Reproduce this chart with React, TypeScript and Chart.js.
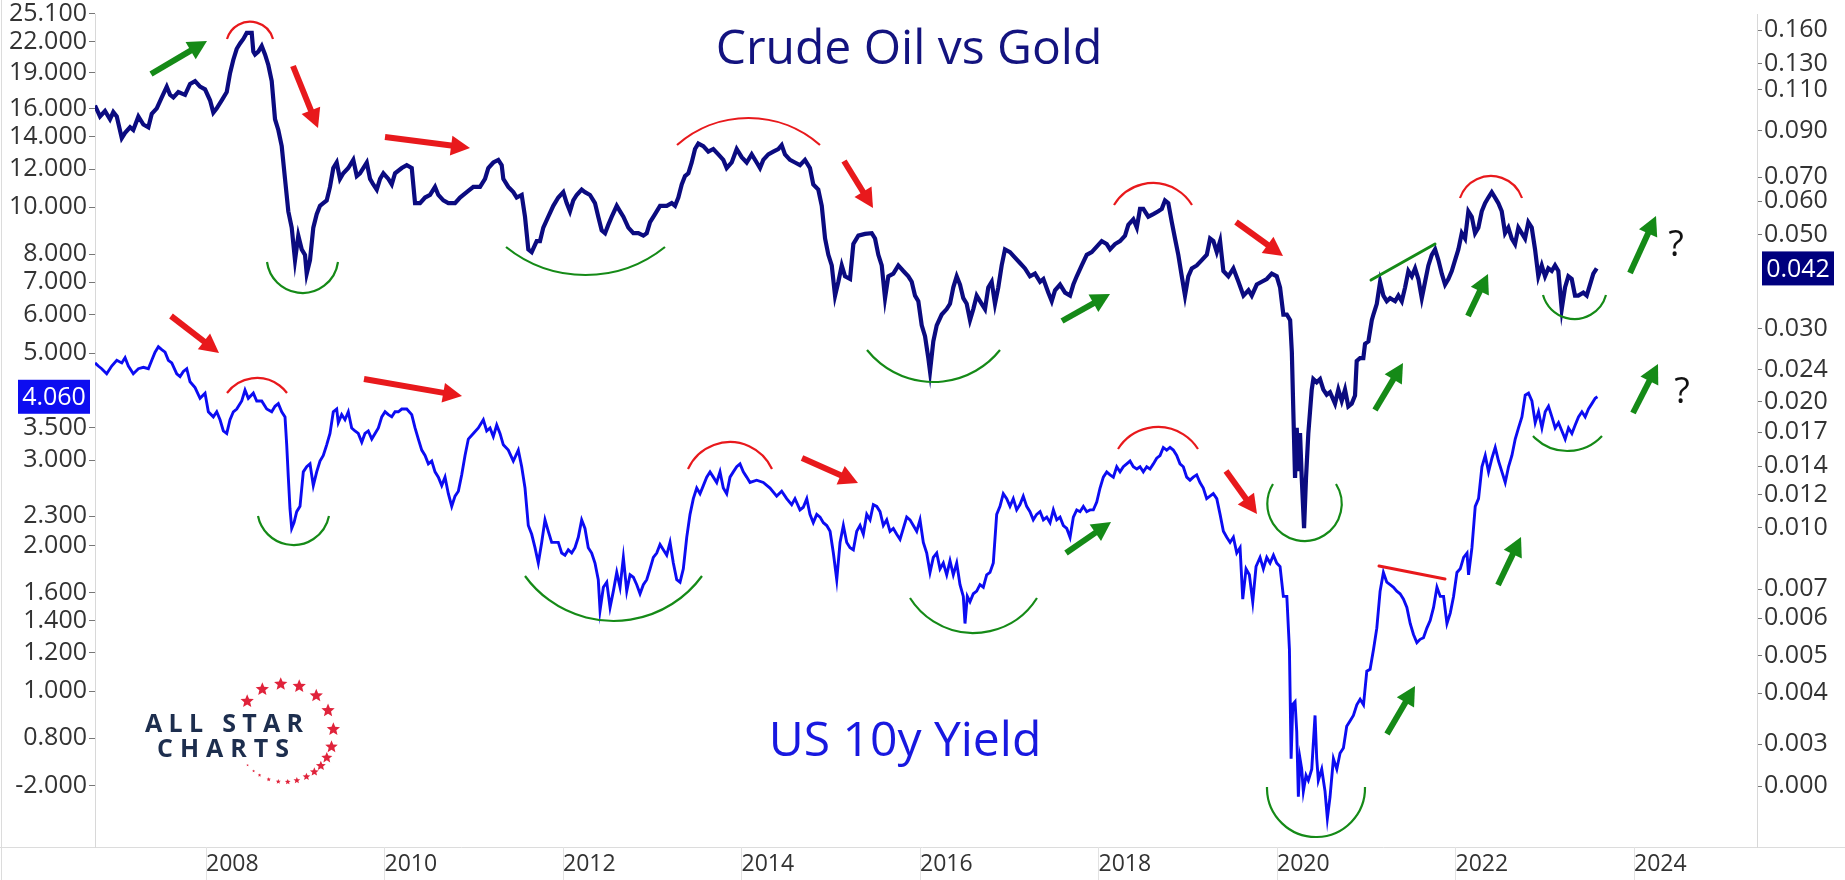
import React, { useEffect, useRef } from "react";
import { Chart, registerables } from "chart.js";
Chart.register(...registerables);

const FONT = "'Open Sans', 'DejaVu Sans', sans-serif";

// ---------- Crude Oil / Gold ratio (right axis) ----------
const ratioDates = [
  2006.756,2006.812,2006.868,2006.924,2006.961,2007.000,2007.056,2007.093,2007.149,2007.185,
  2007.242,2007.298,2007.354,2007.392,2007.448,2007.504,2007.560,2007.597,2007.634,2007.690,
  2007.765,2007.821,2007.877,2007.933,2007.989,2008.045,2008.082,2008.120,2008.176,2008.232,
  2008.269,2008.306,2008.344,2008.381,2008.418,2008.456,2008.512,2008.530,2008.549,2008.586,
  2008.624,2008.661,2008.698,2008.736,2008.773,2008.810,2008.848,2008.885,2008.922,2008.960,
  2008.997,2009.034,2009.072,2009.109,2009.128,2009.165,2009.202,2009.240,2009.277,2009.314,
  2009.352,2009.389,2009.426,2009.464,2009.501,2009.538,2009.594,2009.650,2009.689,2009.725,
  2009.762,2009.801,2009.838,2009.874,2009.913,2009.950,2009.987,2010.043,2010.081,2010.118,
  2010.193,2010.249,2010.305,2010.342,2010.398,2010.454,2010.510,2010.566,2010.603,2010.659,
  2010.715,2010.790,2010.846,2010.921,2010.995,2011.070,2011.126,2011.163,2011.219,2011.275,
  2011.313,2011.331,2011.387,2011.443,2011.481,2011.537,2011.574,2011.611,2011.649,2011.705,
  2011.742,2011.779,2011.835,2011.891,2011.947,2012.003,2012.041,2012.078,2012.115,2012.153,
  2012.209,2012.246,2012.302,2012.358,2012.395,2012.433,2012.471,2012.507,2012.546,2012.602,
  2012.639,2012.676,2012.732,2012.788,2012.844,2012.900,2012.938,2012.975,2013.031,2013.087,
  2013.162,2013.218,2013.255,2013.292,2013.330,2013.367,2013.404,2013.442,2013.479,2013.516,
  2013.572,2013.628,2013.684,2013.740,2013.796,2013.834,2013.890,2013.946,2014.002,2014.058,
  2014.114,2014.170,2014.207,2014.244,2014.300,2014.356,2014.412,2014.450,2014.487,2014.543,
  2014.599,2014.655,2014.711,2014.767,2014.804,2014.860,2014.899,2014.936,2014.973,2015.011,
  2015.048,2015.085,2015.123,2015.160,2015.216,2015.253,2015.309,2015.384,2015.459,2015.496,
  2015.533,2015.571,2015.608,2015.645,2015.701,2015.757,2015.813,2015.869,2015.907,2015.944,
  2015.981,2016.019,2016.056,2016.093,2016.112,2016.149,2016.187,2016.243,2016.299,2016.336,
  2016.373,2016.411,2016.448,2016.485,2016.523,2016.560,2016.597,2016.635,2016.691,2016.728,
  2016.765,2016.803,2016.840,2016.877,2016.915,2016.952,2017.008,2017.064,2017.120,2017.176,
  2017.232,2017.288,2017.345,2017.382,2017.438,2017.476,2017.513,2017.569,2017.625,2017.681,
  2017.718,2017.756,2017.812,2017.868,2017.924,2017.980,2018.036,2018.092,2018.129,2018.185,
  2018.241,2018.297,2018.334,2018.390,2018.429,2018.465,2018.502,2018.558,2018.614,2018.670,
  2018.709,2018.745,2018.782,2018.821,2018.857,2018.894,2018.933,2018.969,2019.006,2019.045,
  2019.101,2019.157,2019.213,2019.250,2019.287,2019.325,2019.362,2019.399,2019.455,2019.511,
  2019.568,2019.624,2019.680,2019.717,2019.773,2019.829,2019.885,2019.941,2019.997,2020.034,
  2020.071,2020.110,2020.147,2020.166,2020.183,2020.202,2020.221,2020.239,2020.258,2020.277,
  2020.303,2020.325,2020.351,2020.389,2020.407,2020.445,2020.482,2020.519,2020.557,2020.594,
  2020.650,2020.687,2020.725,2020.762,2020.799,2020.837,2020.874,2020.893,2020.930,2020.967,
  2020.986,2021.024,2021.062,2021.080,2021.118,2021.155,2021.192,2021.230,2021.267,2021.323,
  2021.360,2021.398,2021.435,2021.472,2021.510,2021.547,2021.584,2021.622,2021.659,2021.696,
  2021.734,2021.771,2021.808,2021.846,2021.883,2021.920,2021.958,2021.995,2022.032,2022.070,
  2022.107,2022.144,2022.182,2022.219,2022.256,2022.294,2022.331,2022.368,2022.406,2022.443,
  2022.480,2022.518,2022.555,2022.592,2022.630,2022.667,2022.704,2022.742,2022.779,2022.816,
  2022.854,2022.891,2022.928,2022.966,2023.003,2023.040,2023.078,2023.115,2023.152,2023.190,
  2023.227,2023.264,2023.302,2023.339,2023.376,2023.432,2023.470,2023.507,2023.544,2023.582,
];
const ratioValues = [
  0.1039,0.0978,0.1008,0.0963,0.1002,0.0978,0.0867,0.0893,0.0921,0.0907,
  0.0978,0.0935,0.0921,0.0993,0.1023,0.1087,0.1154,0.1103,0.1087,0.1120,
  0.1103,0.1172,0.1190,0.1154,0.1137,0.1070,0.0999,0.1023,0.1070,0.1120,
  0.1244,0.1341,0.1425,0.1468,0.1505,0.1556,0.1556,0.1403,0.1381,0.1403,
  0.1447,0.1381,0.1302,0.1190,0.0963,0.0907,0.0829,0.0691,0.0577,0.0527,
  0.0440,0.0504,0.0467,0.0453,0.0408,0.0440,0.0527,0.0568,0.0595,0.0604,
  0.0613,0.0661,0.0734,0.0757,0.0691,0.0713,0.0734,0.0768,0.0702,0.0713,
  0.0734,0.0757,0.0691,0.0670,0.0651,0.0691,0.0713,0.0691,0.0670,0.0713,
  0.0734,0.0746,0.0734,0.0604,0.0604,0.0623,0.0632,0.0661,0.0632,0.0613,
  0.0604,0.0604,0.0623,0.0642,0.0661,0.0661,0.0691,0.0734,0.0757,0.0768,
  0.0746,0.0691,0.0661,0.0642,0.0623,0.0632,0.0560,0.0467,0.0460,0.0489,
  0.0489,0.0527,0.0560,0.0595,0.0623,0.0642,0.0604,0.0577,0.0613,0.0632,
  0.0651,0.0642,0.0632,0.0604,0.0560,0.0519,0.0511,0.0535,0.0560,0.0595,
  0.0577,0.0560,0.0527,0.0511,0.0511,0.0504,0.0511,0.0543,0.0568,0.0595,
  0.0595,0.0604,0.0595,0.0623,0.0670,0.0702,0.0713,0.0757,0.0816,0.0841,
  0.0829,0.0804,0.0816,0.0792,0.0768,0.0734,0.0757,0.0816,0.0780,0.0757,
  0.0792,0.0757,0.0734,0.0768,0.0792,0.0804,0.0816,0.0834,0.0792,0.0768,
  0.0757,0.0746,0.0768,0.0734,0.0670,0.0651,0.0595,0.0496,0.0453,0.0427,
  0.0361,0.0390,0.0427,0.0402,0.0396,0.0481,0.0504,0.0509,0.0511,0.0496,
  0.0453,0.0427,0.0356,0.0402,0.0408,0.0427,0.0414,0.0402,0.0390,0.0361,
  0.0350,0.0306,0.0288,0.0255,0.0237,0.0280,0.0306,0.0325,0.0335,0.0345,
  0.0378,0.0402,0.0384,0.0356,0.0345,0.0315,0.0335,0.0361,0.0345,0.0335,
  0.0378,0.0390,0.0345,0.0378,0.0427,0.0467,0.0460,0.0446,0.0433,0.0420,
  0.0402,0.0408,0.0390,0.0396,0.0367,0.0350,0.0372,0.0384,0.0367,0.0361,
  0.0384,0.0402,0.0427,0.0453,0.0460,0.0474,0.0489,0.0481,0.0467,0.0481,
  0.0489,0.0504,0.0535,0.0552,0.0527,0.0585,0.0585,0.0560,0.0568,0.0577,
  0.0585,0.0613,0.0604,0.0543,0.0496,0.0453,0.0402,0.0361,0.0402,0.0420,
  0.0427,0.0440,0.0453,0.0496,0.0489,0.0460,0.0489,0.0414,0.0402,0.0420,
  0.0390,0.0361,0.0372,0.0361,0.0384,0.0390,0.0396,0.0408,0.0402,0.0378,
  0.0325,0.0325,0.0315,0.0264,0.0189,0.0131,0.0173,0.0136,0.0168,0.0131,
  0.0099,0.0131,0.0168,0.0214,0.0227,0.0223,0.0227,0.0214,0.0208,0.0211,
  0.0198,0.0214,0.0201,0.0214,0.0195,0.0198,0.0207,0.0251,0.0255,0.0255,
  0.0276,0.0280,0.0315,0.0325,0.0345,0.0390,0.0361,0.0350,0.0356,0.0350,
  0.0361,0.0350,0.0378,0.0414,0.0402,0.0420,0.0396,0.0356,0.0390,0.0427,
  0.0453,0.0467,0.0440,0.0408,0.0384,0.0396,0.0414,0.0440,0.0467,0.0511,
  0.0496,0.0577,0.0560,0.0511,0.0527,0.0577,0.0604,0.0623,0.0642,0.0623,
  0.0604,0.0577,0.0511,0.0527,0.0496,0.0481,0.0527,0.0511,0.0496,0.0543,
  0.0527,0.0467,0.0402,0.0427,0.0402,0.0420,0.0414,0.0427,0.0414,0.0335,
  0.0378,0.0402,0.0396,0.0361,0.0361,0.0367,0.0361,0.0384,0.0408,0.0420,
];

// ---------- US 10y Yield (left axis) ----------
const yieldDates = [
  2006.756,2006.793,2006.831,2006.887,2006.943,2007.000,2007.056,2007.093,2007.130,2007.185,
  2007.242,2007.298,2007.354,2007.392,2007.429,2007.466,2007.504,2007.541,2007.578,2007.616,
  2007.672,2007.709,2007.746,2007.784,2007.821,2007.877,2007.933,2007.989,2008.026,2008.082,
  2008.120,2008.157,2008.194,2008.232,2008.269,2008.306,2008.344,2008.400,2008.437,2008.474,
  2008.530,2008.568,2008.624,2008.680,2008.736,2008.773,2008.810,2008.848,2008.885,2008.904,
  2008.922,2008.941,2008.960,2008.986,2009.016,2009.053,2009.090,2009.128,2009.165,2009.202,
  2009.240,2009.277,2009.314,2009.352,2009.389,2009.426,2009.464,2009.482,2009.520,2009.557,
  2009.594,2009.632,2009.669,2009.706,2009.745,2009.781,2009.818,2009.857,2009.894,2009.931,
  2009.969,2010.006,2010.043,2010.081,2010.118,2010.155,2010.193,2010.249,2010.305,2010.342,
  2010.379,2010.417,2010.454,2010.491,2010.529,2010.566,2010.603,2010.641,2010.678,2010.715,
  2010.753,2010.790,2010.827,2010.865,2010.902,2010.939,2010.995,2011.051,2011.107,2011.145,
  2011.182,2011.219,2011.257,2011.294,2011.331,2011.387,2011.443,2011.499,2011.537,2011.574,
  2011.611,2011.649,2011.686,2011.723,2011.761,2011.798,2011.835,2011.873,2011.910,2011.947,
  2011.985,2012.022,2012.059,2012.097,2012.134,2012.171,2012.209,2012.246,2012.283,2012.321,
  2012.358,2012.395,2012.415,2012.452,2012.490,2012.527,2012.564,2012.602,2012.639,2012.676,
  2012.714,2012.751,2012.788,2012.826,2012.863,2012.900,2012.938,2012.975,2013.012,2013.050,
  2013.087,2013.124,2013.162,2013.199,2013.236,2013.274,2013.311,2013.348,2013.386,2013.423,
  2013.460,2013.498,2013.535,2013.572,2013.610,2013.647,2013.684,2013.722,2013.759,2013.796,
  2013.834,2013.871,2013.908,2013.946,2013.983,2014.020,2014.058,2014.095,2014.170,2014.244,
  2014.319,2014.394,2014.450,2014.506,2014.562,2014.599,2014.655,2014.692,2014.731,2014.767,
  2014.804,2014.843,2014.880,2014.917,2014.955,2014.992,2015.029,2015.067,2015.104,2015.141,
  2015.179,2015.216,2015.253,2015.291,2015.328,2015.365,2015.403,2015.440,2015.477,2015.515,
  2015.552,2015.589,2015.627,2015.664,2015.701,2015.739,2015.776,2015.813,2015.851,2015.888,
  2015.925,2015.963,2016.000,2016.037,2016.075,2016.112,2016.149,2016.187,2016.224,2016.261,
  2016.299,2016.336,2016.373,2016.411,2016.448,2016.485,2016.504,2016.530,2016.560,2016.597,
  2016.635,2016.672,2016.709,2016.747,2016.784,2016.821,2016.859,2016.896,2016.933,2016.971,
  2017.008,2017.045,2017.083,2017.120,2017.157,2017.195,2017.232,2017.269,2017.307,2017.345,
  2017.382,2017.420,2017.457,2017.494,2017.532,2017.569,2017.606,2017.644,2017.681,2017.718,
  2017.756,2017.793,2017.830,2017.868,2017.905,2017.942,2017.980,2018.017,2018.054,2018.092,
  2018.129,2018.166,2018.204,2018.241,2018.278,2018.316,2018.353,2018.390,2018.429,2018.465,
  2018.502,2018.540,2018.577,2018.614,2018.652,2018.689,2018.726,2018.764,2018.801,2018.838,
  2018.876,2018.913,2018.950,2018.988,2019.025,2019.062,2019.100,2019.137,2019.174,2019.212,
  2019.249,2019.286,2019.325,2019.362,2019.399,2019.437,2019.474,2019.511,2019.549,2019.586,
  2019.616,2019.653,2019.690,2019.728,2019.765,2019.810,2019.847,2019.885,2019.922,2019.960,
  2019.997,2020.034,2020.071,2020.110,2020.139,2020.158,2020.177,2020.202,2020.221,2020.239,
  2020.258,2020.277,2020.295,2020.325,2020.351,2020.389,2020.426,2020.445,2020.463,2020.501,
  2020.538,2020.564,2020.594,2020.632,2020.670,2020.706,2020.744,2020.781,2020.818,2020.856,
  2020.894,2020.931,2020.969,2021.006,2021.043,2021.081,2021.118,2021.155,2021.192,2021.230,
  2021.267,2021.305,2021.342,2021.379,2021.417,2021.455,2021.492,2021.529,2021.567,2021.604,
  2021.641,2021.679,2021.716,2021.754,2021.792,2021.829,2021.866,2021.904,2021.941,2021.978,
  2022.016,2022.053,2022.091,2022.129,2022.146,2022.184,2022.221,2022.258,2022.296,2022.333,
  2022.370,2022.408,2022.445,2022.482,2022.520,2022.557,2022.594,2022.632,2022.669,2022.706,
  2022.744,2022.781,2022.818,2022.856,2022.893,2022.930,2022.968,2023.005,2023.042,2023.080,
  2023.117,2023.154,2023.192,2023.229,2023.266,2023.304,2023.341,2023.378,2023.416,2023.453,
  2023.490,2023.528,2023.565,2023.590,
];
const yieldValues = [
  4.77,4.70,4.64,4.53,4.70,4.83,4.77,4.89,4.70,4.53,
  4.64,4.67,4.64,4.83,5.02,5.15,5.08,5.02,4.83,4.77,
  4.53,4.47,4.58,4.64,4.36,4.24,4.03,4.13,3.78,3.69,
  3.78,3.64,3.45,3.41,3.64,3.78,3.83,3.98,4.19,4.03,
  4.13,3.98,3.98,3.83,3.78,3.88,3.93,3.78,3.69,3.23,
  2.77,2.38,2.17,2.23,2.35,2.41,2.84,2.91,2.95,2.66,
  2.84,2.99,3.07,3.23,3.41,3.78,3.83,3.59,3.73,3.64,
  3.78,3.50,3.45,3.41,3.27,3.41,3.45,3.32,3.41,3.50,
  3.69,3.78,3.73,3.69,3.78,3.78,3.83,3.83,3.73,3.50,
  3.32,3.15,3.07,2.95,2.99,2.84,2.77,2.66,2.77,2.56,
  2.41,2.53,2.59,2.80,3.07,3.32,3.41,3.50,3.64,3.45,
  3.50,3.36,3.55,3.41,3.23,3.15,2.99,3.15,2.91,2.63,
  2.20,2.11,1.98,1.84,2.03,2.26,2.14,2.03,2.03,2.03,
  1.93,1.91,1.96,1.93,1.98,2.08,2.26,2.17,1.98,1.93,
  1.84,1.70,1.47,1.64,1.68,1.49,1.61,1.76,1.64,1.89,
  1.61,1.74,1.72,1.66,1.59,1.66,1.70,1.79,1.89,1.93,
  2.01,1.96,1.91,2.03,1.84,1.70,1.68,1.79,2.08,2.32,
  2.50,2.63,2.56,2.66,2.77,2.84,2.77,2.70,2.84,2.63,
  2.56,2.77,2.84,2.91,2.95,2.84,2.77,2.70,2.73,2.70,
  2.63,2.53,2.59,2.50,2.43,2.50,2.37,2.40,2.50,2.32,
  2.23,2.32,2.29,2.23,2.20,2.14,1.93,1.70,2.03,2.20,
  2.03,1.98,1.96,2.14,2.20,2.11,2.32,2.26,2.43,2.41,
  2.35,2.20,2.26,2.14,2.17,2.11,2.06,2.17,2.29,2.26,
  2.20,2.14,2.26,2.03,1.93,1.76,1.89,1.93,1.79,1.84,
  1.74,1.86,1.74,1.84,1.66,1.57,1.38,1.57,1.53,1.59,
  1.61,1.66,1.64,1.74,1.76,1.84,2.32,2.41,2.56,2.50,
  2.41,2.50,2.37,2.43,2.53,2.41,2.35,2.26,2.32,2.35,
  2.26,2.29,2.23,2.37,2.26,2.29,2.20,2.17,2.08,2.29,
  2.37,2.35,2.41,2.35,2.37,2.37,2.46,2.63,2.77,2.84,
  2.80,2.77,2.91,2.84,2.91,2.95,2.99,2.91,2.88,2.91,
  2.84,2.91,2.88,2.95,3.03,3.07,3.19,3.15,3.19,3.15,
  3.07,2.95,2.91,2.77,2.73,2.77,2.80,2.70,2.63,2.50,
  2.53,2.56,2.50,2.32,2.14,2.08,2.03,2.08,1.93,1.98,
  1.55,1.79,1.74,1.53,1.81,1.89,1.79,1.89,1.84,1.91,
  1.84,1.81,1.57,1.57,1.22,0.725,0.939,0.951,0.825,0.605,
  0.725,0.690,0.621,0.670,0.654,0.690,0.891,0.725,0.654,0.690,
  0.621,0.546,0.605,0.725,0.690,0.744,0.763,0.846,0.868,0.891,
  0.937,0.962,0.937,1.10,1.11,1.22,1.35,1.61,1.76,1.68,
  1.66,1.64,1.61,1.59,1.55,1.49,1.38,1.31,1.26,1.28,
  1.29,1.35,1.40,1.49,1.64,1.57,1.57,1.38,1.45,1.57,
  1.76,1.79,1.89,1.93,1.74,1.98,2.41,2.50,2.91,3.07,
  2.84,3.03,3.19,2.99,2.84,2.70,2.91,3.07,3.32,3.50,
  3.69,4.09,4.13,3.98,3.59,3.78,3.50,3.78,3.88,3.69,
  3.50,3.59,3.45,3.32,3.50,3.41,3.55,3.69,3.78,3.69,
  3.83,3.93,4.03,4.06,
];

// ---------- axes ----------
const yearTicks = [2008, 2010, 2012, 2014, 2016, 2018, 2020, 2022, 2024];
const leftTickValues = [25.1, 22, 19, 16, 14, 12, 10, 8, 7, 6, 5, 3.5, 3, 2.3, 2, 1.6, 1.4, 1.2, 1, 0.8, 0.637];
const leftTickLabels = ["25.100", "22.000", "19.000", "16.000", "14.000", "12.000", "10.000", "8.000", "7.000", "6.000", "5.000", "3.500", "3.000", "2.300", "2.000", "1.600", "1.400", "1.200", "1.000", "0.800", "-2.000"];
const rightTickValues = [0.158, 0.131, 0.1135, 0.0905, 0.0698, 0.0611, 0.0507, 0.03, 0.0239, 0.02, 0.0169, 0.01398, 0.01195, 0.00992, 0.00705, 0.006, 0.00487, 0.00396, 0.00298, 0.00236];
const rightTickLabels = ["0.160", "0.130", "0.110", "0.090", "0.070", "0.060", "0.050", "0.030", "0.024", "0.020", "0.017", "0.014", "0.012", "0.010", "0.007", "0.006", "0.005", "0.004", "0.003", "0.000"];

const X_MIN = 2006.756;
const X_MAX = 2025.378;
const LEFT_MIN = 0.4764;
const LEFT_MAX = 25.04;
const RIGHT_MIN = 0.0016816;
const RIGHT_MAX = 0.17242;

// ---------- drawn annotations (pixel space of the 1845x880 canvas) ----------
const RED = "#e8191c";
const GREEN = "#158a17";
const arrows: [string, number, number, number, number][] = [
  [GREEN, 151, 74, 207, 41],
  [RED, 293, 66, 318, 128],
  [RED, 385, 137, 470, 148],
  [RED, 844, 161, 873, 208],
  [GREEN, 1062, 321, 1110, 294],
  [RED, 1236, 222, 1283, 256],
  [GREEN, 1375, 410, 1403, 363],
  [GREEN, 1468, 316, 1488, 274],
  [GREEN, 1630, 273, 1656, 216],
  [RED, 171, 316, 219, 353],
  [RED, 364, 379, 462, 396],
  [RED, 802, 458, 858, 483],
  [GREEN, 1066, 553, 1111, 522],
  [RED, 1226, 471, 1257, 514],
  [GREEN, 1387, 734, 1415, 686],
  [GREEN, 1498, 585, 1521, 537],
  [GREEN, 1633, 413, 1658, 364],
];
const arcs: [string, number, number, number, number][] = [
  [RED, 227, 273, 39, 21.7],
  [GREEN, 267, 338, 262, 293],
  [GREEN, 506, 665, 247, 275],
  [RED, 677, 820, 145, 118],
  [GREEN, 867, 1000, 350, 382],
  [RED, 1114, 1192, 205, 183],
  [GREEN, 1273, 1336, 484, 541],
  [RED, 1460, 1522, 198, 176],
  [GREEN, 1543, 1606, 295, 319],
  [RED, 227, 287, 393, 378],
  [GREEN, 258, 329, 516, 545],
  [GREEN, 525, 702, 576, 621],
  [RED, 688, 772, 469, 442],
  [GREEN, 910, 1037, 598, 633],
  [RED, 1118, 1198, 449, 427],
  [GREEN, 1267, 1365, 787, 837],
  [GREEN, 1533, 1602, 436, 451],
];
const segments: [string, number, number, number, number][] = [
  [GREEN, 1371, 280, 1435, 244],
  [RED, 1379, 566, 1445, 579],
];
const starAngles = [-139.6, -116.9, -94.4, -72.5, -49.6, -27.3, -4.3, 16.4, 30.3, 42.1, 52.5, 63.4, 75.4, 86.2, 97.3, 108.8, 120.6, 129.1, 138.9];
const starSizes = [7, 7, 7, 7, 7, 7, 7, 6.6, 5.8, 5.2, 4.6, 4.0, 3.5, 3.0, 2.6, 2.2, 1.8, 1.5, 1.3];

function drawArrow(ctx: CanvasRenderingContext2D, color: string, x1: number, y1: number, x2: number, y2: number) {
  const a = Math.atan2(y2 - y1, x2 - x1);
  const hl = 19, hw = 10;
  const bx = x2 - hl * Math.cos(a), by = y2 - hl * Math.sin(a);
  ctx.strokeStyle = color;
  ctx.lineWidth = 6;
  ctx.lineCap = "butt";
  ctx.beginPath();
  ctx.moveTo(x1, y1);
  ctx.lineTo(bx + 2 * Math.cos(a), by + 2 * Math.sin(a));
  ctx.stroke();
  ctx.fillStyle = color;
  ctx.beginPath();
  ctx.moveTo(x2, y2);
  ctx.lineTo(bx + hw * Math.sin(a), by - hw * Math.cos(a));
  ctx.lineTo(bx - hw * Math.sin(a), by + hw * Math.cos(a));
  ctx.closePath();
  ctx.fill();
}

function drawArc(ctx: CanvasRenderingContext2D, color: string, x1: number, x2: number, yEnd: number, yApex: number) {
  const cx = (x1 + x2) / 2;
  const c = (x2 - x1) / 2;
  const s = Math.abs(yApex - yEnd);
  const R = (c * c + s * s) / (2 * s);
  const up = yApex < yEnd;
  const cy = up ? yApex + R : yApex - R;
  const a1 = Math.atan2(yEnd - cy, x1 - cx);
  const a2 = Math.atan2(yEnd - cy, x2 - cx);
  ctx.strokeStyle = color;
  ctx.lineWidth = 2.2;
  ctx.beginPath();
  if (up) ctx.arc(cx, cy, R, a1, a2, false);
  else ctx.arc(cx, cy, R, a2, a1, false);
  ctx.stroke();
}

function drawStar(ctx: CanvasRenderingContext2D, x: number, y: number, r: number) {
  ctx.beginPath();
  for (let i = 0; i < 10; i++) {
    const rr = i % 2 === 0 ? r : r * 0.45;
    const ang = -Math.PI / 2 + (i * Math.PI) / 5;
    const px = x + rr * Math.cos(ang), py = y + rr * Math.sin(ang);
    if (i === 0) ctx.moveTo(px, py);
    else ctx.lineTo(px, py);
  }
  ctx.closePath();
  ctx.fill();
}

function spacedText(ctx: CanvasRenderingContext2D, text: string, x: number, y: number, spacing: number) {
  let cx = x;
  for (const ch of text) {
    ctx.fillText(ch, cx, y);
    cx += ctx.measureText(ch).width + spacing;
  }
}

const overlayPlugin = {
  id: "overlay",
  beforeDraw(chart: any) {
    const ctx: CanvasRenderingContext2D = chart.ctx;
    const b = chart.chartArea.bottom;
    ctx.save();
    ctx.strokeStyle = "#dcdcdc";
    ctx.lineWidth = 1;
    ctx.beginPath();
    ctx.moveTo(0, Math.round(b) + 0.5);
    ctx.lineTo(chart.width, Math.round(b) + 0.5);
    ctx.moveTo(1.5, 0);
    ctx.lineTo(1.5, chart.height);
    ctx.stroke();
    ctx.restore();
  },
  afterDraw(chart: any) {
    const ctx: CanvasRenderingContext2D = chart.ctx;
    ctx.save();
    // titles
    ctx.textAlign = "center";
    ctx.textBaseline = "alphabetic";
    ctx.font = `48px ${FONT}`;
    ctx.fillStyle = "#13137f";
    ctx.fillText("Crude Oil vs Gold", 909, 64);
    ctx.fillStyle = "#1818e0";
    ctx.fillText("US 10y Yield", 905, 756);

    // annotations
    for (const [c, x1, x2, ye, ya] of arcs) drawArc(ctx, c, x1, x2, ye, ya);
    ctx.lineCap = "round";
    for (const [c, x1, y1, x2, y2] of segments) {
      ctx.strokeStyle = c;
      ctx.lineWidth = 3;
      ctx.beginPath();
      ctx.moveTo(x1, y1);
      ctx.lineTo(x2, y2);
      ctx.stroke();
    }
    for (const [c, x1, y1, x2, y2] of arrows) drawArrow(ctx, c, x1, y1, x2, y2);

    ctx.fillStyle = "#111";
    ctx.font = `36px ${FONT}`;
    ctx.textBaseline = "middle";
    ctx.fillText("?", 1676, 246);
    ctx.fillText("?", 1682, 393);

    // logo
    ctx.fillStyle = "#1d2e4e";
    ctx.textAlign = "left";
    ctx.textBaseline = "alphabetic";
    ctx.font = `700 25px ${FONT}`;
    spacedText(ctx, "ALL STAR", 145, 732, 6.3);
    spacedText(ctx, "CHARTS", 157, 757, 7);
    ctx.fillStyle = "#e0233b";
    starAngles.forEach((deg, i) => {
      const a = (deg * Math.PI) / 180;
      drawStar(ctx, 284.5 + 49 * Math.cos(a), 733 + 49 * Math.sin(a), starSizes[i]);
    });

    // last value boxes
    const yL = chart.scales.yL;
    const yR = chart.scales.yR;
    const lastY = yieldValues[yieldValues.length - 1];
    const lastR = ratioValues[ratioValues.length - 1];
    const pL = yL.getPixelForValue(lastY);
    const pR = yR.getPixelForValue(lastR);
    ctx.font = `25px ${FONT}`;
    ctx.textBaseline = "middle";
    ctx.textAlign = "center";
    ctx.fillStyle = "#0d0df0";
    ctx.fillRect(18, pL - 17, 72, 34);
    ctx.fillStyle = "#fff";
    ctx.fillText(lastY.toFixed(3), 54, pL + 1);
    ctx.fillStyle = "#00007e";
    ctx.fillRect(1762, pR - 17, 72, 34);
    ctx.fillStyle = "#fff";
    ctx.fillText(lastR.toFixed(3), 1798, pR + 1);
    ctx.restore();
  },
};

export default function App() {
  const ref = useRef<HTMLCanvasElement>(null);
  useEffect(() => {
    document.body.style.margin = "0";
    document.body.style.overflow = "hidden";
    const chart = new Chart(ref.current as HTMLCanvasElement, {
      type: "line",
      data: {
        datasets: [
          {
            label: "Crude Oil vs Gold",
            data: ratioDates.map((d, i) => ({ x: d, y: ratioValues[i] })),
            yAxisID: "yR",
            borderColor: "#0b0b80",
            borderWidth: 4.2,
            pointRadius: 0,
            tension: 0,
            fill: false,
          },
          {
            label: "US 10y Yield",
            data: yieldDates.map((d, i) => ({ x: d, y: yieldValues[i] })),
            yAxisID: "yL",
            borderColor: "#0c0cf2",
            borderWidth: 2.9,
            pointRadius: 0,
            tension: 0,
            fill: false,
          },
        ],
      },
      options: {
        responsive: false,
        devicePixelRatio: 1,
        animation: false,
        layout: { padding: 0 },
        plugins: { legend: { display: false }, tooltip: { enabled: false } },
        scales: {
          x: {
            type: "linear",
            min: X_MIN,
            max: X_MAX,
            afterBuildTicks: (s: any) => {
              s.ticks = yearTicks.map((v) => ({ value: v }));
            },
            afterFit: (s: any) => {
              s.height = 33;
            },
            ticks: {
              autoSkip: false,
              maxRotation: 0,
              minRotation: 0,
              align: "start",
              padding: -27,
              color: "#333",
              font: { family: FONT, size: 23, lineHeight: 1 },
              callback: (v: any) => String(v),
            },
            grid: { drawOnChartArea: false, drawTicks: true, tickLength: 33, color: "#e2e2e2" },
            border: { display: false },
          },
          yL: {
            type: "logarithmic",
            position: "left",
            min: LEFT_MIN,
            max: LEFT_MAX,
            afterBuildTicks: (s: any) => {
              s.ticks = leftTickValues.map((v) => ({ value: v }));
            },
            afterFit: (s: any) => {
              s.width = 95;
            },
            ticks: {
              autoSkip: false,
              padding: 2,
              color: "#333",
              font: { family: FONT, size: 25, lineHeight: 1 },
              callback: (_v: any, i: number) => leftTickLabels[i],
            },
            grid: { drawOnChartArea: false, drawTicks: true, tickLength: 6, color: "#777" },
            border: { display: true, color: "#d8d8d8" },
          },
          yR: {
            type: "logarithmic",
            position: "right",
            min: RIGHT_MIN,
            max: RIGHT_MAX,
            afterBuildTicks: (s: any) => {
              s.ticks = rightTickValues.map((v) => ({ value: v }));
            },
            afterFit: (s: any) => {
              s.width = 88;
            },
            ticks: {
              autoSkip: false,
              padding: 2,
              color: "#333",
              font: { family: FONT, size: 25, lineHeight: 1 },
              callback: (_v: any, i: number) => rightTickLabels[i],
            },
            grid: { drawOnChartArea: false, drawTicks: true, tickLength: 5, color: "#777" },
            border: { display: true, color: "#d8d8d8" },
          },
        },
      },
      plugins: [overlayPlugin],
    } as any);
    return () => chart.destroy();
  }, []);
  return (
    <div style={{ width: 1845, height: 880, position: "relative", background: "#fff" }}>
      <canvas ref={ref} width={1845} height={880} style={{ display: "block", width: 1845, height: 880 }} />
    </div>
  );
}
